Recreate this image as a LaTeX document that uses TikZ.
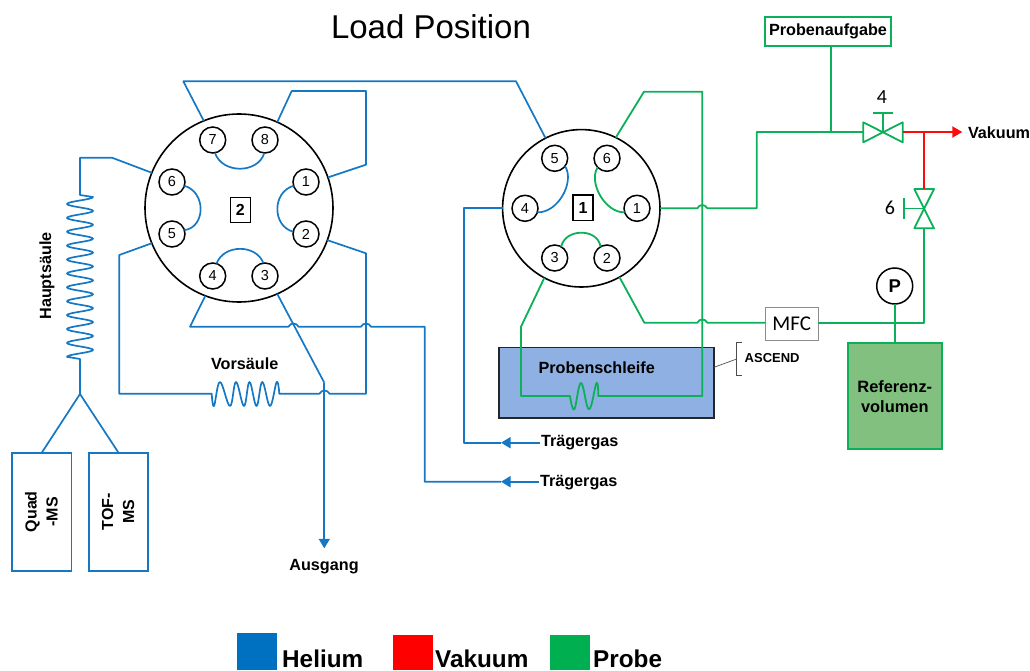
\documentclass[tikz,border=0pt]{standalone}
\usepackage{fontspec}
\setmainfont{Liberation Sans}
\newfontfamily\calib{Carlito}
\usetikzlibrary{arrows.meta}
\definecolor{heblue}{HTML}{1578C4}
\definecolor{prgreen}{HTML}{0CB058}
\definecolor{vacred}{HTML}{FF0A0A}
\definecolor{loopfill}{HTML}{8EB0E3}
\definecolor{reffill}{HTML}{81C07F}
\definecolor{lgblue}{HTML}{0070C0}
\definecolor{lgred}{HTML}{FF0000}
\definecolor{lggreen}{HTML}{00B050}
\newcommand{\fsz}[1]{\fontsize{#1}{#1}\selectfont}
\tikzset{
  x=1pt,y=-1pt,
  he/.style={draw=heblue,line width=1.7pt,line join=round},
  pr/.style={draw=prgreen,line width=1.8pt,line join=round},
  vac/.style={draw=vacred,line width=1.9pt},
  valvebody/.style={circle,draw=black,line width=1.6pt,inner sep=0pt,outer sep=0pt},
  portnum/.style={circle,draw=black,line width=1.5pt,fill=white,minimum size=26pt,inner sep=0pt,outer sep=0pt,font=\fsz{14.5}},
  idbox/.style={draw=black,line width=1.3pt,minimum width=20pt,minimum height=25.5pt,inner sep=0pt,font=\bfseries\fsz{16}},
  lab/.style={font=\bfseries\fsz{16.2},inner sep=0pt,outer sep=1pt},
  msbox/.style={draw=heblue,line width=1.7pt,minimum width=59.5pt,minimum height=118pt,inner sep=0pt,outer sep=0pt},
  mslabel/.style={font=\bfseries\fontsize{16}{21}\selectfont,align=center,rotate=90,inner sep=0pt},
  tip/.style={-{Triangle[length=9.5pt,width=11pt]}},
  swatch/.style={inner sep=0pt,outer sep=0pt,anchor=north west},
  legend/.style={font=\bfseries\fsz{24.3},anchor=base west,inner sep=0pt},
}
\begin{document}
\begin{tikzpicture}
\useasboundingbox (0,0) rectangle (1030,671);

\node[font=\fsz{33},inner sep=0pt] (title) at (431,27) {Load Position};

% Valve 2
\node[valvebody,minimum size=188pt] (vb) at (239,208) {};
\node[idbox] (vbid) at (240.3,210) {2};
\foreach \n/\px/\py in {1/306/182,2/306/234,3/265/276,4/212.7/276,5/172/234,6/172/182,7/212.7/140,8/265/140}
  \node[portnum] (b\n) at (\px,\py) {\n};

\draw[he] (b7.-80) .. controls (222,174) and (258,174) .. (b8.-93);
\draw[he] (b4.73) .. controls (224,244) and (256,244) .. (b3.97);
\draw[he] (b1.197) .. controls (272,192) and (272,226) .. (b2.170);
\draw[he] (b6.-17) .. controls (206,192) and (206,227) .. (b5.17);

% Valve 1
\node[valvebody,minimum size=157.4pt] (va) at (581.3,208.3) {};
\node[idbox] (vaid) at (583,207.7) {1};
\foreach \n/\px/\py in {1/637/208.3,2/607/258,3/554.7/258,4/525/208.3,5/554.7/158.3,6/607/158.3}
  \node[portnum] (a\n) at (\px,\py) {\n};

\draw[he] (a5.-37) .. controls (575,182) and (558,213) .. (a4.-18);
\draw[pr] (a6.224) .. controls (588,182) and (605,213) .. (a1.198);
\draw[pr] (a3.60) .. controls (565,228) and (598,228) .. (a2.120);

% Columns, boxes
\node[msbox] (quad) at (41.75,511.7) {};
\node[msbox] (tof) at (118.5,511.7) {};
\node[mslabel] (quadt) at (41.5,511.7) {Quad\\-MS};
\node[mslabel] (toft) at (118,511.7) {TOF-\\MS};
\node[lab,rotate=90] (haupt) at (47,276) {Hauptsäule};
\node[lab] (vors) at (244.7,364) {Vorsäule};
\coordinate (fork) at (80,394);

\node[draw=black!85,line width=1.6pt,fill=loopfill,minimum width=214.7pt,minimum height=70.4pt,inner sep=0pt,outer sep=0pt] (loop) at (606.6,382.5) {};
\node[lab] (loopt) at (596.7,367.3) {Probenschleife};

\node[draw=prgreen,line width=1.8pt,minimum width=126pt,minimum height=29.3pt,inner sep=0pt,outer sep=0pt,lab] (feed) at (828,31.3) {Probenaufgabe};
\node[draw=black!45,line width=0.8pt,fill=white,minimum width=53.3pt,minimum height=32.3pt,inner sep=0pt,outer sep=0pt,font=\calib\fsz{21}] (mfc) at (791.7,323.8) {MFC};
\node[circle,draw=black,line width=1.5pt,minimum size=36pt,inner sep=0pt,outer sep=0pt,font=\bfseries\fsz{18.5}] (gauge) at (894.7,286) {P};
\node[draw=prgreen,line width=1.9pt,fill=reffill,minimum width=94.3pt,minimum height=105.7pt,inner sep=0pt,outer sep=0pt,align=center,font=\bfseries\fontsize{16.4}{20}\selectfont] (ref) at (894.8,396.2) {Referenz-\\volumen};

% Labels
\node[lab,anchor=west] (tg1) at (540,443) {Trägergas};
\node[lab,anchor=west] (tg2) at (539,483) {Trägergas};
\node[lab] (aus) at (324,567) {Ausgang};
\node[lab,anchor=west] (vak) at (967,133) {Vakuum};
\node[font=\bfseries\fsz{13},inner sep=0pt,anchor=west] (asc) at (744.5,358) {ASCEND};
\node[font=\calib\fsz{20},inner sep=0pt] (n4) at (882,96.7) {4};
\node[font=\calib\fsz{20},inner sep=0pt] (n6) at (890,208) {6};

\coordinate (tgya) at (0,442.7);
\coordinate (tgyb) at (0,481.7);
\coordinate (mfcy) at (0,322.7);
\coordinate (loopy) at (0,367.3);

% Helium lines valve 2
\draw[he] (vb.112.6) -- (183.3,81.3) -- (516,81.3) -- (va.117);
\draw[he] (vb.66.6) -- (291.7,91) -- (366,91) -- (366,164.7) -- (vb.19.7);
\draw[he] (vb.158.9) -- (112,157.7) -- (80,157.7) -- (80,195) -- (93,197)
  -- plot[domain=0:11.5,samples=185,smooth] ({80+13*cos(360*\x)},{197+\x*13.9})
  -- (80,359) -- (fork);
\draw[he] (fork) -- (quad.north);
\draw[he] (fork) -- (tof.north);
% pre-column loop, with hop over port-3 line
\draw[he] (vb.202.3) -- (119.3,255) -- (119.3,393.7) -- (211.7,393.7)
  -- plot[smooth,tension=.65] coordinates {(211.7,393.7) (214,406) (220,382) (230,406) (236,382) (244,406) (249.5,382) (256.5,406) (262.3,382) (270,406) (276.7,382) (279.3,393.7)}
  -- (319.5,393.7) .. controls (321.5,389.5) and (327.5,389.5) .. (329.5,393.7) -- (366,393.7)
  -- (366,253.3) -- (vb.-20.7);
\draw[he] (vb.-111.5) -- (190,326.7) -- (288.5,326.7)
  .. controls (290.5,322.5) and (296.5,322.5) .. (298.5,326.7) -- (361,326.7)
  .. controls (363,322.5) and (369,322.5) .. (371,326.7) -- (424.7,326.7) -- (424.7,481.7) -- (501,481.7);
\draw[he,tip,fill=heblue] (tg2.west|-tgyb) -- (501,481.7);
\coordinate (ausin) at (324.3,382.7);
\draw[he] (vb.-66.3) -- (ausin);
\draw[he,tip,fill=heblue] (ausin) -- (324.3,548.3);
% valve 1 carrier gas
\draw[he] (va.180) -- (464,208.3) -- (464,442.7) -- (501,442.7);
\draw[he,tip,fill=heblue] (tg1.west|-tgya) -- (501,442.7);

% Probe lines
\draw[pr] (va.64.1) -- (644,91.7) -- (702.3,91.7) -- (702.3,396) -- (598.3,396)
  -- plot[smooth,tension=.7] coordinates {(598.3,396) (596.5,383) (589,409.3) (581,383) (574.3,409.3) (570,396)}
  -- (521,396) -- (521,326.7) -- (va.-118.3);
\coordinate (v4l) at (863.3,132);
\coordinate (v4r) at (902.7,132);
\coordinate (v4c) at (883,132);
\coordinate (v6t) at (924,189);
\coordinate (v6b) at (924,228.3);
\coordinate (v6c) at (924,208.5);
\coordinate (teefeed) at (830.7,132);
\coordinate (teevac) at (924,132);
\draw[pr] (va.0) -- (697.3,208.3) .. controls (699.3,204) and (705.3,204) .. (707.3,208.3)
  -- (756.7,208.3) -- (756.7,132) -- (v4l);
\draw[pr] (feed.south-|teefeed) -- (teefeed);
\draw[pr] (va.-61.4) -- (644.3,322.7) -- (697.3,322.7) .. controls (699.3,318.4) and (705.3,318.4) .. (707.3,322.7) -- (mfc.west|-mfcy);
\draw[pr] (mfc.east|-mfcy) -- (924,322.7) -- (v6b);
\draw[pr] (gauge.south) -- (ref.north-|gauge);
% valve 4 and 6
\draw[pr] (863.3,122.3) -- (902.7,142.3) -- (902.7,122.3) -- (863.3,142.3) -- cycle;
\draw[pr] (v4c) -- (883,112.7) (872.7,112.7) -- (893.3,112.7);
\draw[pr] (914.3,189) -- (934,228.3) -- (914.3,228.3) -- (934,189) -- cycle;
\draw[pr] (v6c) -- (904,208.5) (904,198.3) -- (904,218.5);

% Vacuum
\draw[vac,fill=vacred,-{Triangle[length=10pt,width=11pt]}] (v4r) -- (962.3,132);
\draw[vac] (teevac) -- (v6t);

% ASCEND bracket
\coordinate (brk) at (736.7,359);
\draw[black!70,line width=0.7pt] (loop.east|-loopy) -- (brk);
\draw[black!70,line width=0.7pt] (741.7,342.7) -- (736.7,342.7) -- (736.7,375.3) -- (741.7,375.3);

% Legend
\node[swatch,fill=lgblue,minimum width=40pt,minimum height=37.5pt] (sw1) at (236.8,632.5) {};
\node[swatch,fill=lgred,minimum width=40pt,minimum height=35.5pt] (sw2) at (393,634.5) {};
\node[swatch,fill=lggreen,minimum width=40pt,minimum height=35.5pt] (sw3) at (550,634.5) {};
\node[legend] (lg1) at (282,667) {Helium};
\node[legend] (lg2) at (435,667) {Vakuum};
\node[legend] (lg3) at (593,667) {Probe};
\end{tikzpicture}
\end{document}
